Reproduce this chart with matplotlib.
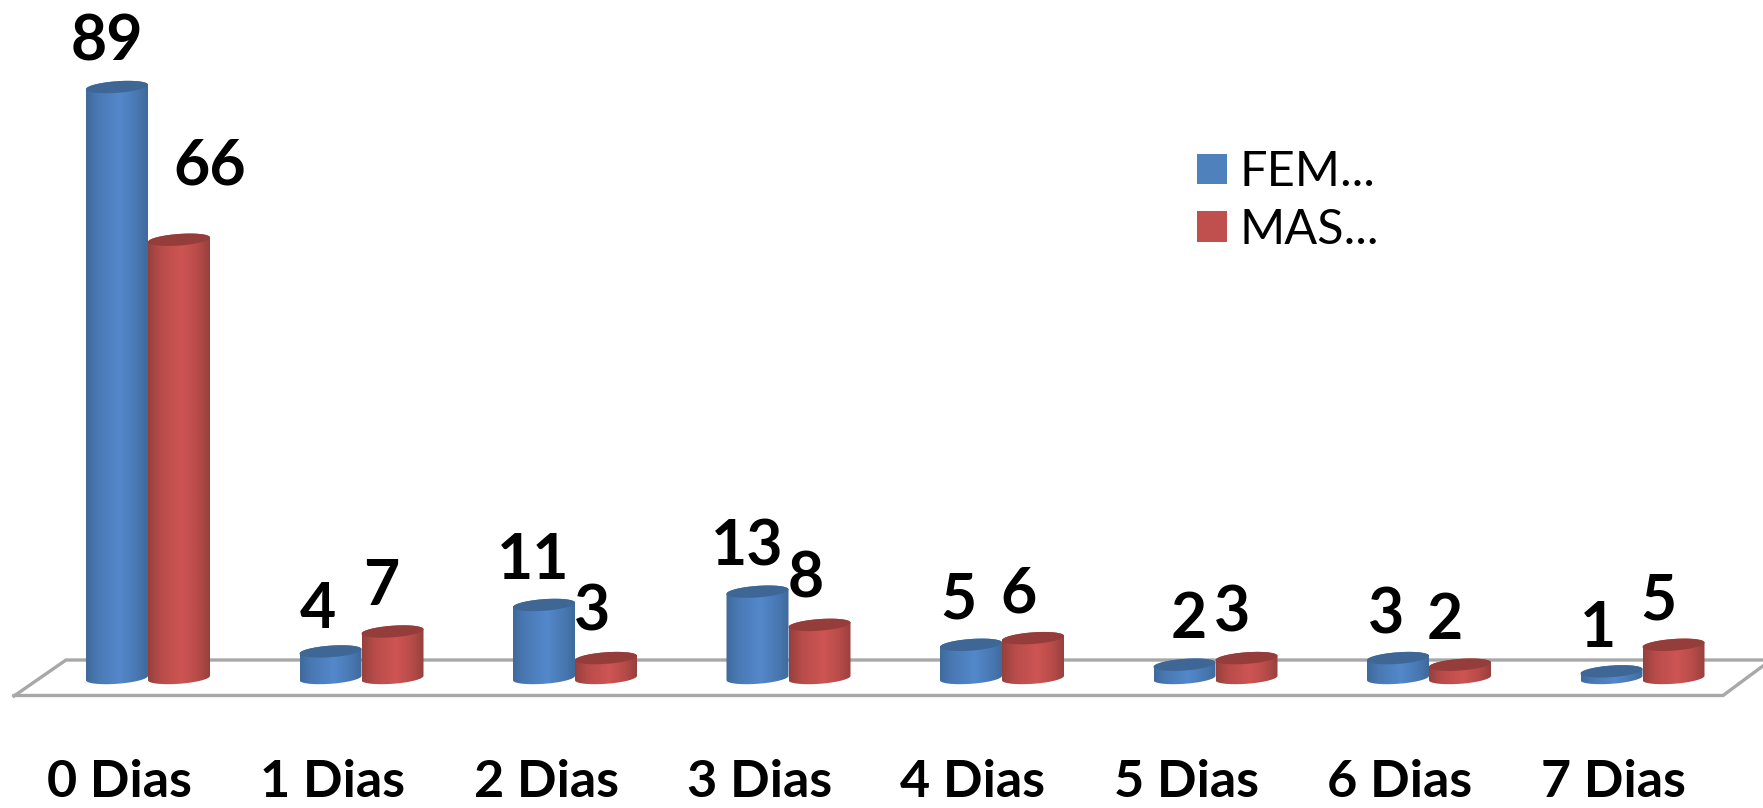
import numpy as np
import matplotlib
matplotlib.use("Agg")
import matplotlib.pyplot as plt
from matplotlib.colors import LinearSegmentedColormap
from matplotlib.patches import Patch, Polygon
from matplotlib.transforms import ScaledTranslation

categories = ["0 Dias", "1 Dias", "2 Dias", "3 Dias", "4 Dias", "5 Dias", "6 Dias", "7 Dias"]
fem_values = [89, 4, 11, 13, 5, 2, 3, 1]
mas_values = [66, 7, 3, 8, 6, 3, 2, 5]
series_names = ["FEM...", "MAS..."]

# label offsets from the top of each bar, in pixels (dx, up)
fem_label_off = [(-10, 45), (-13, 41), (-11, 44), (-10, 44), (-13, 44), (4, 45), (-12, 43), (-13, 42)]
mas_label_off = [(31, 73), (-11, 45), (-14, 46), (-14, 45), (-14, 44), (-14, 45), (-15, 44), (-15, 43)]

W, H, DPI = 1763, 808, 100
FONT = "Lato"
PX_Y = 6.64           # pixels per value unit
BASE_PX = 678.0       # y pixel of value 0
STEP_PX = 213.5       # pixels between groups
X0_PX = 148.0         # x pixel of first group centre
BAR_PX = 62.0
AX_BOTTOM_PX = 696.0

fig = plt.figure(figsize=(W / DPI, H / DPI), dpi=DPI, facecolor="white")
ax = fig.add_axes([0, 1 - AX_BOTTOM_PX / H, 1, AX_BOTTOM_PX / H])
pos = np.arange(len(categories))
xlim = (-X0_PX / STEP_PX, (W - X0_PX) / STEP_PX)
ylim = ((BASE_PX - AX_BOTTOM_PX) / PX_Y, BASE_PX / PX_Y)


def xpx(p):
    return (p - X0_PX) / STEP_PX


def ypx(p):
    return (BASE_PX - p) / PX_Y


# floor of the 3D plot
floor_x = [xpx(14), xpx(66), xpx(1775)]
floor_y = [ypx(696), ypx(660), ypx(660)]
ax.plot(floor_x, floor_y, color="#a8a8a8", lw=2.4, zorder=1, clip_on=False, solid_joinstyle="miter")
ax.plot([xpx(14), xpx(1723), xpx(1775)], [ypx(695.5), ypx(695.5), ypx(657)], color="#a8a8a8",
        lw=2.4, zorder=1, clip_on=False, solid_joinstyle="miter")

width = BAR_PX / STEP_PX
semi_b = 5.8 / PX_Y
tilt = 2.2 / PX_Y


def ellipse(xc, v, t):
    return xc + width / 2 * np.cos(t), v + semi_b * np.sin(t) + tilt * np.cos(t)


def cylinder(xc, v, dark, soft, mid, cap, z):
    t_low = np.linspace(np.pi, 2 * np.pi, 60)
    t_up = np.linspace(0, np.pi, 60)
    bx, by = ellipse(xc, 0, t_low)
    tx, ty = ellipse(xc, v, t_up)
    outline = Polygon(np.column_stack([np.r_[bx, tx], np.r_[by, ty]]), closed=True,
                      fc="none", ec="none", zorder=z)
    ax.add_patch(outline)
    cmap = LinearSegmentedColormap.from_list(
        "c", [(0, dark), (0.2, soft), (0.55, mid), (0.8, soft), (1, dark)])
    im = ax.imshow(np.linspace(0, 1, 128)[None, :], cmap=cmap, aspect="auto", interpolation="bilinear",
                   extent=[xc - width / 2, xc + width / 2, -3 * semi_b, v + 3 * semi_b], zorder=z)
    im.set_clip_path(outline)
    cx, cy = ellipse(xc, v, np.linspace(0, 2 * np.pi, 120))
    ax.fill(cx, cy, color=cap, lw=0, zorder=z + 0.1)


label_kw = dict(ha="center", va="center", fontsize=45, fontweight="bold", family=FONT, color="black",
                textcoords="offset pixels", zorder=50, annotation_clip=False)

fem_x = pos - (BAR_PX / 2) / STEP_PX
mas_x = pos + (BAR_PX / 2) / STEP_PX
for i in pos:
    z = 5 + i
    cylinder(fem_x[i], fem_values[i], "#3f6a9c", "#4a7ab5", "#5388cb", "#3e6796", z)
    cylinder(mas_x[i], mas_values[i], "#96403d", "#b84c4a", "#ce5553", "#953d3b", z + 0.3)
    dx, up = fem_label_off[i]
    ax.annotate(str(fem_values[i]), (fem_x[i], fem_values[i]), xytext=(dx, up), **label_kw)
    dx, up = mas_label_off[i]
    ax.annotate(str(mas_values[i]), (mas_x[i], mas_values[i]), xytext=(dx, up), **label_kw)

ax.set_xlim(*xlim)
ax.set_ylim(*ylim)
ax.set_yticks([])
ax.set_xticks(pos)
ax.set_xticklabels(categories, fontsize=37.5, fontweight="bold", family=FONT, color="black")
ax.tick_params(axis="x", length=0, pad=45.5)
shift = ScaledTranslation(-29 / DPI, 0, fig.dpi_scale_trans)
for lab in ax.get_xticklabels():
    lab.set_transform(lab.get_transform() + shift)
for s in ax.spines.values():
    s.set_visible(False)
ax.patch.set_visible(False)

handles = [Patch(fc="#4f81bd", ec="none"), Patch(fc="#c0504d", ec="none")]
leg = ax.legend(handles, series_names, loc="upper left", frameon=False, prop={"family": FONT, "size": 35},
                bbox_to_anchor=(1197 / W, (AX_BOTTOM_PX - 150) / AX_BOTTOM_PX), borderaxespad=0, borderpad=0,
                handlelength=0.62, handleheight=0.58, handletextpad=0.26, labelspacing=0.28)

fig.savefig("out.png", dpi=DPI, facecolor="white")
